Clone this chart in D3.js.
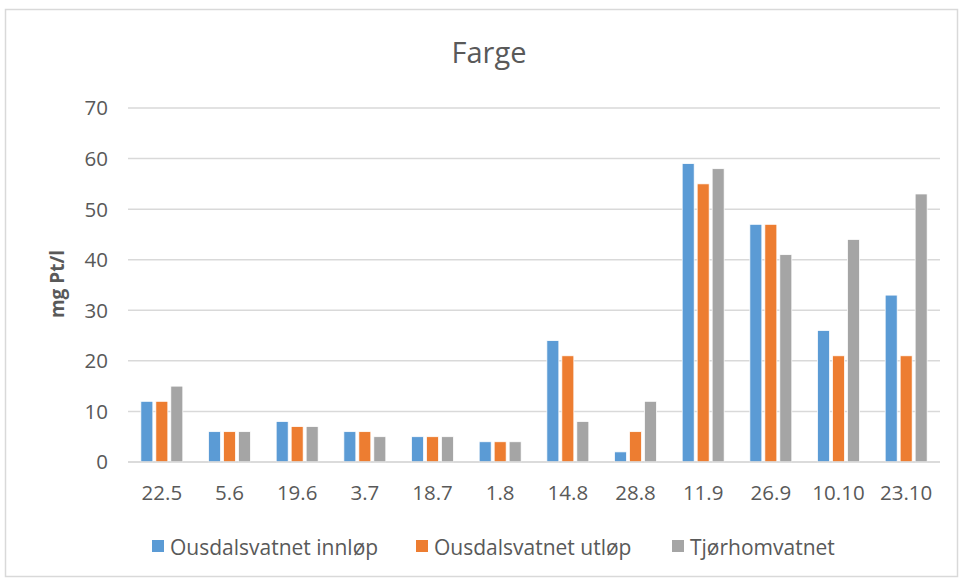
<!DOCTYPE html>
<html><head><meta charset="utf-8">
<script src="https://cdn.jsdelivr.net/npm/d3@7"></script>
<style>body{margin:0;background:#fff;} text{font-family:"Open Sans",Lato,sans-serif;}</style>
</head><body>
<svg id="c" width="959" height="579"></svg>
<script>
const categories = ["22.5","5.6","19.6","3.7","18.7","1.8","14.8","28.8","11.9","26.9","10.10","23.10"];
const seriesNames = ["Ousdalsvatnet innløp","Ousdalsvatnet utløp","Tjørhomvatnet"];
const innlop = [12,6,8,6,5,4,24,2,59,47,26,33];
const utlop  = [12,6,7,6,5,4,21,6,55,47,21,21];
const tjorhom= [15,6,7,5,5,4,8,12,58,41,44,53];
const yTicks = [0,10,20,30,40,50,60,70];
const colors = ["#5B9BD5","#ED7D31","#A5A5A5"];
const seriesValues = [innlop, utlop, tjorhom];

const svg = d3.select("#c");
svg.append("rect").attr("x",5.5).attr("y",9.5).attr("width",952).attr("height",567)
  .attr("fill","#fff").attr("stroke","#D9D9D9").attr("stroke-width",1.5);

const m = {l:128, r:940, t:108, b:462};
const x = d3.scaleBand().domain(categories).range([m.l,m.r]).paddingInner(0.38).paddingOuter(0.19);
const xs = d3.scaleBand().domain(d3.range(3)).range([0,x.bandwidth()]).paddingInner(0.2);
const y = d3.scaleLinear().domain([0,70]).range([m.b,m.t]);

// gridlines
svg.append("g").selectAll("line").data(yTicks).join("line")
  .attr("x1",m.l).attr("x2",m.r).attr("y1",d=>y(d)).attr("y2",d=>y(d))
  .attr("stroke","#D9D9D9").attr("stroke-width",1.5);

// y labels
svg.append("g").selectAll("text").data(yTicks).join("text")
  .attr("x",108).attr("y",d=>y(d)).attr("dy","0.36em").attr("text-anchor","end")
  .attr("font-size",20.5).attr("fill","#595959").text(d=>d);

// bars
const data = [];
categories.forEach((c,i)=>seriesValues.forEach((s,j)=>data.push({c,j,v:s[i]})));
svg.append("g").selectAll("rect").data(data).join("rect")
  .attr("x",d=>x(d.c)+xs(d.j)).attr("width",xs.bandwidth())
  .attr("y",d=>y(d.v)).attr("height",d=>y(0)-y(d.v))
  .attr("fill",d=>colors[d.j]).attr("stroke","#fff").attr("stroke-width",0.75);

// baseline
svg.append("line").attr("x1",m.l).attr("x2",m.r).attr("y1",y(0)).attr("y2",y(0))
  .attr("stroke","#D9D9D9").attr("stroke-width",1.5);

// x labels
svg.append("g").selectAll("text").data(categories).join("text")
  .attr("x",d=>x(d)+x.bandwidth()/2).attr("y",500).attr("text-anchor","middle")
  .attr("font-size",20.5).attr("fill","#595959").text(d=>d);

// title
svg.append("text").attr("x",489).attr("y",63).attr("text-anchor","middle")
  .attr("font-size",29).attr("fill","#595959").text("Farge");

// y axis title
svg.append("text").attr("transform","translate(64,284) rotate(-90)").attr("text-anchor","middle")
  .attr("font-size",19).attr("font-weight","bold").attr("fill","#595959").text("mg Pt/l");

// legend
const legX = [152,416,672];
const lg = svg.append("g").selectAll("g").data(seriesNames).join("g")
  .attr("transform",(d,i)=>`translate(${legX[i]},540)`);
lg.append("rect").attr("width",12).attr("height",12).attr("fill",(d,i)=>colors[i]);
lg.append("text").attr("x",18).attr("y",15).attr("font-size",21)
  .attr("fill","#595959").text(d=>d);
</script>
</body></html>
